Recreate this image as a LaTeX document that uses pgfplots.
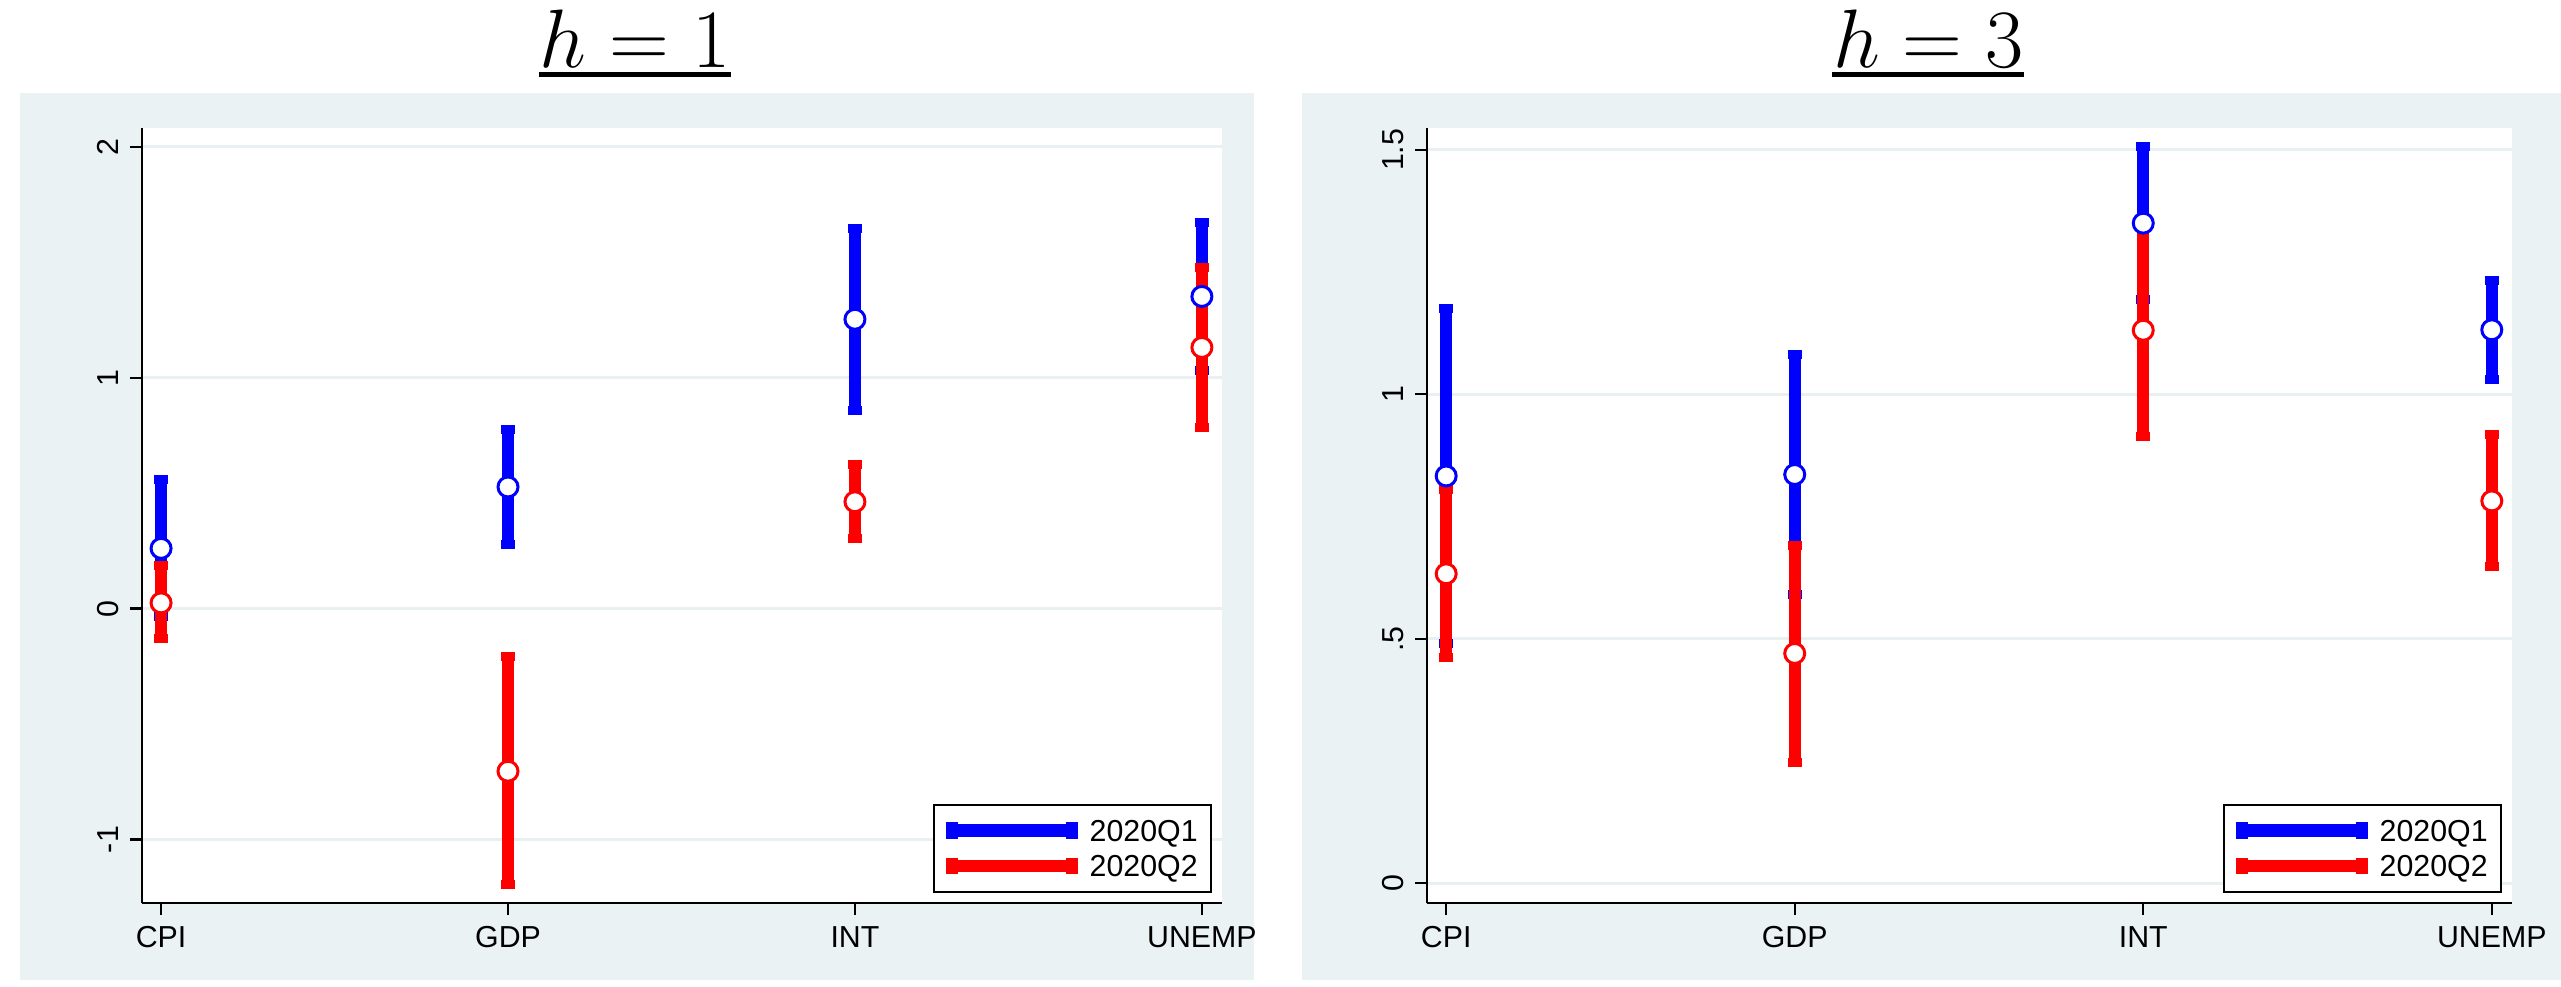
\documentclass[border=0pt]{standalone}
\usepackage[no-math]{fontspec}
\setmainfont{Liberation Sans}
\usepackage{pgfplots}
\usepackage{pgfplotstable}
\pgfplotsset{compat=1.18}
\definecolor{bgc}{RGB}{234,242,243}
\definecolor{gridc}{RGB}{232,240,242}
\definecolor{sblue}{RGB}{0,0,255}
\definecolor{sred}{RGB}{255,0,0}

% h = 1
\pgfplotstableread{
x y lo hi
0 0.261 -0.036 0.558
1 0.527 0.279 0.775
2 1.253 0.856 1.648
3 1.352 1.031 1.673
}\leftblue
\pgfplotstableread{
x y lo hi
0 0.025 -0.130 0.185
1 -0.704 -1.195 -0.208
2 0.463 0.304 0.623
3 1.131 0.784 1.476
}\leftred
% h = 3
\pgfplotstableread{
x y lo hi
0 0.833 0.490 1.176
1 0.836 0.590 1.082
2 1.350 1.193 1.507
3 1.132 1.030 1.232
}\rightblue
\pgfplotstableread{
x y lo hi
0 0.633 0.461 0.805
1 0.470 0.248 0.691
2 1.131 0.913 1.346
3 0.782 0.647 0.917
}\rightred

\pgfplotsset{
  statastyle/.style={
    scale only axis,
    anchor=south west,
    axis lines*=left,
    axis line style={black, line width=0.7pt},
    tick style={black, line width=0.7pt},
    tick align=outside,
    major tick length=3.5pt,
    xmin=-0.055, xmax=3.058,
    xtick={0,1,2,3},
    xticklabels={CPI,GDP,INT,UNEMP},
    ymajorgrids,
    grid style={gridc, line width=0.9pt},
    ticklabel style={font=\fontsize{9.1}{11}\selectfont},
    yticklabel style={rotate=90, anchor=south},
    /pgf/number format/assume math mode=true,
    axis background/.style={fill=white},
    legend style={at={(1,0)}, anchor=south east, xshift=-3pt, yshift=3.2pt,
      draw=black, line width=0.6pt, font=\fontsize{9.1}{11}\selectfont,
      inner xsep=2pt, inner ysep=2.5pt, row sep=0.3pt,
      nodes={text depth=0pt}},
    legend cell align=left,
  },
  ciplot/.style={
    forget plot, only marks, mark=*, mark size=3pt,
    mark options={draw=#1, fill=white, line width=0.9pt},
    error bars/.cd, y dir=both, y explicit,
    error bar style={#1, line width=3.6pt},
    error mark=-,
    error mark options={rotate=90, draw=#1, line width=2.7pt, mark size=2.05pt},
  },
}

\newcommand{\legbar}[1]{\addlegendimage{legend image code/.code={%
  \draw[#1, line width=3.75pt] (0pt,0pt) -- (39pt,0pt);
  \fill[#1] (0pt,-2.2pt) rectangle (3pt,2.2pt);
  \fill[#1] (36pt,-2.2pt) rectangle (39pt,2.2pt);}}}

\begin{document}
\begin{tikzpicture}[x=1pt,y=1pt]
\fill[bgc] (6,2.1) rectangle (376.2,268.2);
\fill[bgc] (390.6,2.1) rectangle (768.3,268.2);

\begin{axis}[statastyle, at={(42.6pt,25.1pt)}, width=324pt, height=232.5pt,
  ymin=-1.276, ymax=2.08, ytick={-1,0,1,2}, yticklabels={-1,0,1,2}]
  \legbar{sblue}\addlegendentry{2020Q1\hspace{4pt}}
  \legbar{sred}\addlegendentry{2020Q2\hspace{4pt}}
  \addplot[ciplot=sblue] table[x=x, y=y,
    y error plus expr=\thisrow{hi}-\thisrow{y},
    y error minus expr=\thisrow{y}-\thisrow{lo}] {\leftblue};
  \addplot[ciplot=sred] table[x=x, y=y,
    y error plus expr=\thisrow{hi}-\thisrow{y},
    y error minus expr=\thisrow{y}-\thisrow{lo}] {\leftred};
\end{axis}

\begin{axis}[statastyle, at={(428.1pt,25.1pt)}, width=325.5pt, height=232.5pt,
  ymin=-0.041, ymax=1.544, ytick={0,0.5,1,1.5}, yticklabels={0,.5,1,1.5}]
  \legbar{sblue}\addlegendentry{2020Q1\hspace{4pt}}
  \legbar{sred}\addlegendentry{2020Q2\hspace{4pt}}
  \addplot[ciplot=sblue] table[x=x, y=y,
    y error plus expr=\thisrow{hi}-\thisrow{y},
    y error minus expr=\thisrow{y}-\thisrow{lo}] {\rightblue};
  \addplot[ciplot=sred] table[x=x, y=y,
    y error plus expr=\thisrow{hi}-\thisrow{y},
    y error minus expr=\thisrow{y}-\thisrow{lo}] {\rightred};
\end{axis}

\node[inner sep=0pt, anchor=base, font=\fontsize{23}{28}\selectfont] (t1) at (190.5,275.7) {$h = 1$};
\draw[line width=1.7pt] ([yshift=-2pt]t1.base west) -- ([yshift=-2pt]t1.base east);
\node[inner sep=0pt, anchor=base, font=\fontsize{23}{28}\selectfont] (t2) at (578.5,275.7) {$h = 3$};
\draw[line width=1.7pt] ([yshift=-2pt]t2.base west) -- ([yshift=-2pt]t2.base east);

\pgfresetboundingbox
\path (0,0) rectangle (768.3,296.1);
\end{tikzpicture}
\end{document}
